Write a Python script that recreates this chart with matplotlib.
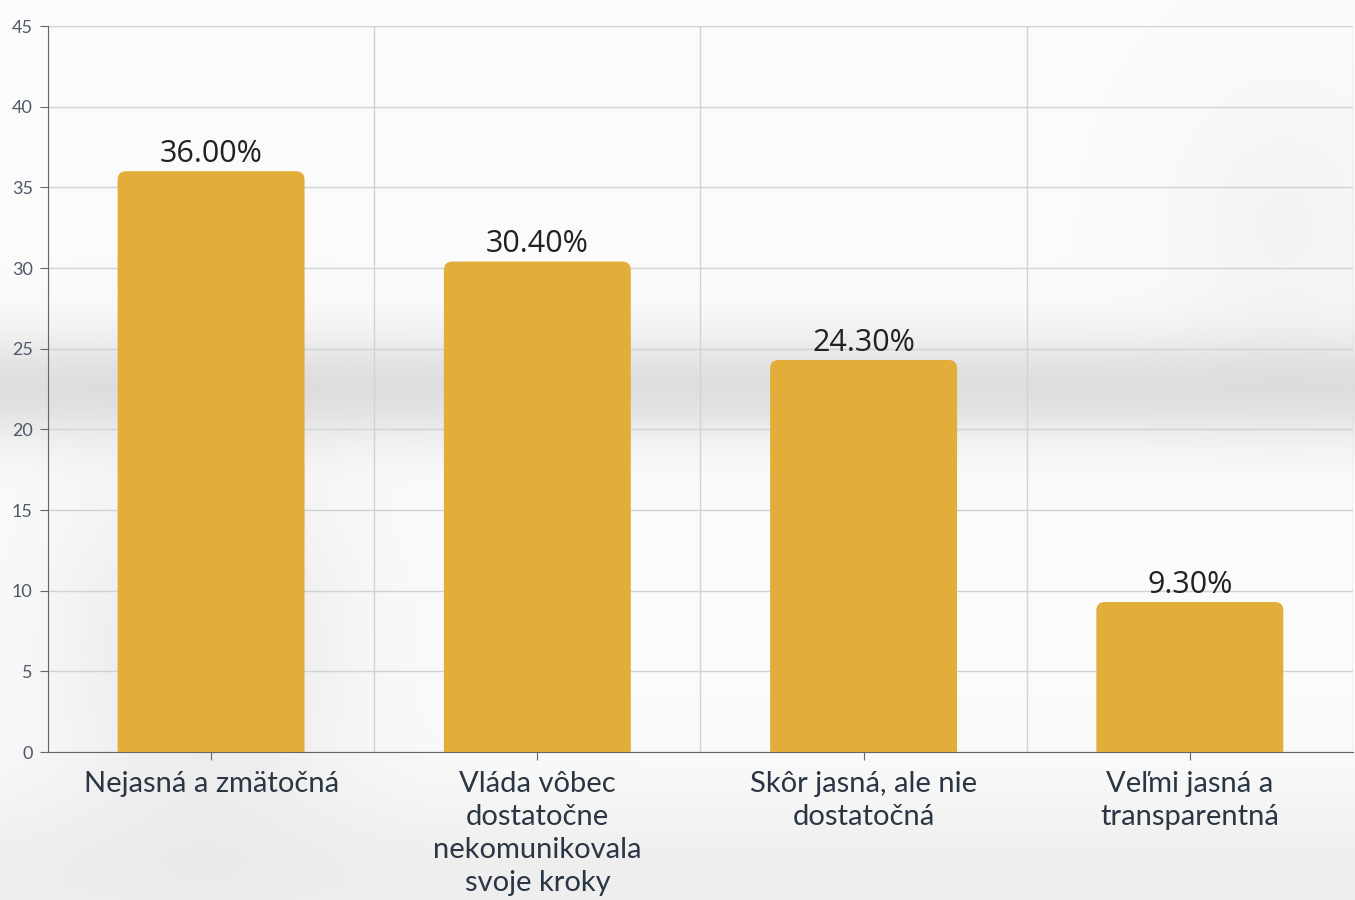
import numpy as np
import matplotlib.pyplot as plt
from matplotlib.patches import FancyBboxPatch

categories = ['Nejasná a zmätočná',
              'Vláda vôbec\ndostatočne\nnekomunikovala\nsvoje kroky',
              'Skôr jasná, ale nie\ndostatočná',
              'Veľmi jasná a\ntransparentná']
values = [36.0, 30.4, 24.3, 9.3]
labels = ['36.00%', '30.40%', '24.30%', '9.30%']
yticks = [0, 5, 10, 15, 20, 25, 30, 35, 40, 45]

bar_color = '#E3AD3A'
text_color = '#2B3645'

fig = plt.figure(figsize=(13.55, 9), dpi=100)
fig.patch.set_facecolor('white')

# soft blurred-photo like backdrop
bg = fig.add_axes([0, 0, 1, 1], zorder=0)
yy = np.linspace(0, 1, 300)[:, None]
xx = np.linspace(0, 1, 450)[None, :]
shade = 0.985 - 0.11 * np.exp(-((yy - 0.57) / 0.06) ** 2) * np.ones_like(xx)
shade -= 0.07 * np.exp(-((yy - 0.28) / 0.2) ** 2 - ((xx - 0.15) / 0.11) ** 2)
shade -= 0.05 * np.exp(-((yy - 0.02) / 0.1) ** 2) * np.ones_like(xx)
shade -= 0.03 * np.exp(-((yy - 0.75) / 0.15) ** 2 - ((xx - 0.95) / 0.08) ** 2)
shade = np.clip(shade, 0, 1)
bg.imshow(np.dstack([shade, shade, shade]), aspect='auto', extent=[0, 1, 0, 1],
          origin='lower')
bg.axis('off')

ax = fig.add_axes([0.0354, 0.1644, 0.9631, 0.8067], zorder=1)
ax.patch.set_alpha(0)

x = np.arange(len(values))
w = 0.573
ax.set_xlim(-0.5, 3.5)
ax.set_ylim(0, 45)

# rounded top corners
rx = 0.026
aspect = (326.5 / 16.13)
for xi, v in zip(x, values):
    ry = rx * aspect
    p = FancyBboxPatch((xi - w / 2, -ry), w, v + ry,
                       boxstyle=f'round,pad=0,rounding_size={rx}',
                       mutation_aspect=aspect, facecolor=bar_color,
                       edgecolor='none', zorder=3, clip_on=True)
    ax.add_patch(p)

for xi, v, lab in zip(x, values, labels):
    ax.text(xi, v + 0.15, lab, ha='center', va='bottom', fontsize=22,
            family='Open Sans', color='#222222', zorder=4)

ax.set_yticks(yticks)
ax.set_yticklabels([str(t) for t in yticks], family='Lato', fontsize=13, color='#4F5966')
ax.set_xticks(x)
ax.set_xticklabels(categories, family='Lato', fontsize=21, color=text_color,
                   linespacing=1.32)
ax.set_xticks(np.arange(-0.5, 3.6, 1), minor=True)

ax.grid(axis='y', color='#CFD2D6', linewidth=1, zorder=1)
ax.grid(axis='x', which='minor', color='#CFD2D6', linewidth=1, zorder=1)
ax.grid(axis='x', which='major', visible=False)
ax.tick_params(axis='x', which='minor', length=0)
ax.tick_params(axis='x', which='major', length=6, color='#666666', pad=8)
ax.tick_params(axis='y', length=6, color='#666666', pad=5)

for s in ['top', 'right']:
    ax.spines[s].set_visible(False)
ax.spines['left'].set_color('#666666')
ax.spines['bottom'].set_color('#666666')
ax.set_axisbelow(True)

fig.savefig('out.png', dpi=100)
